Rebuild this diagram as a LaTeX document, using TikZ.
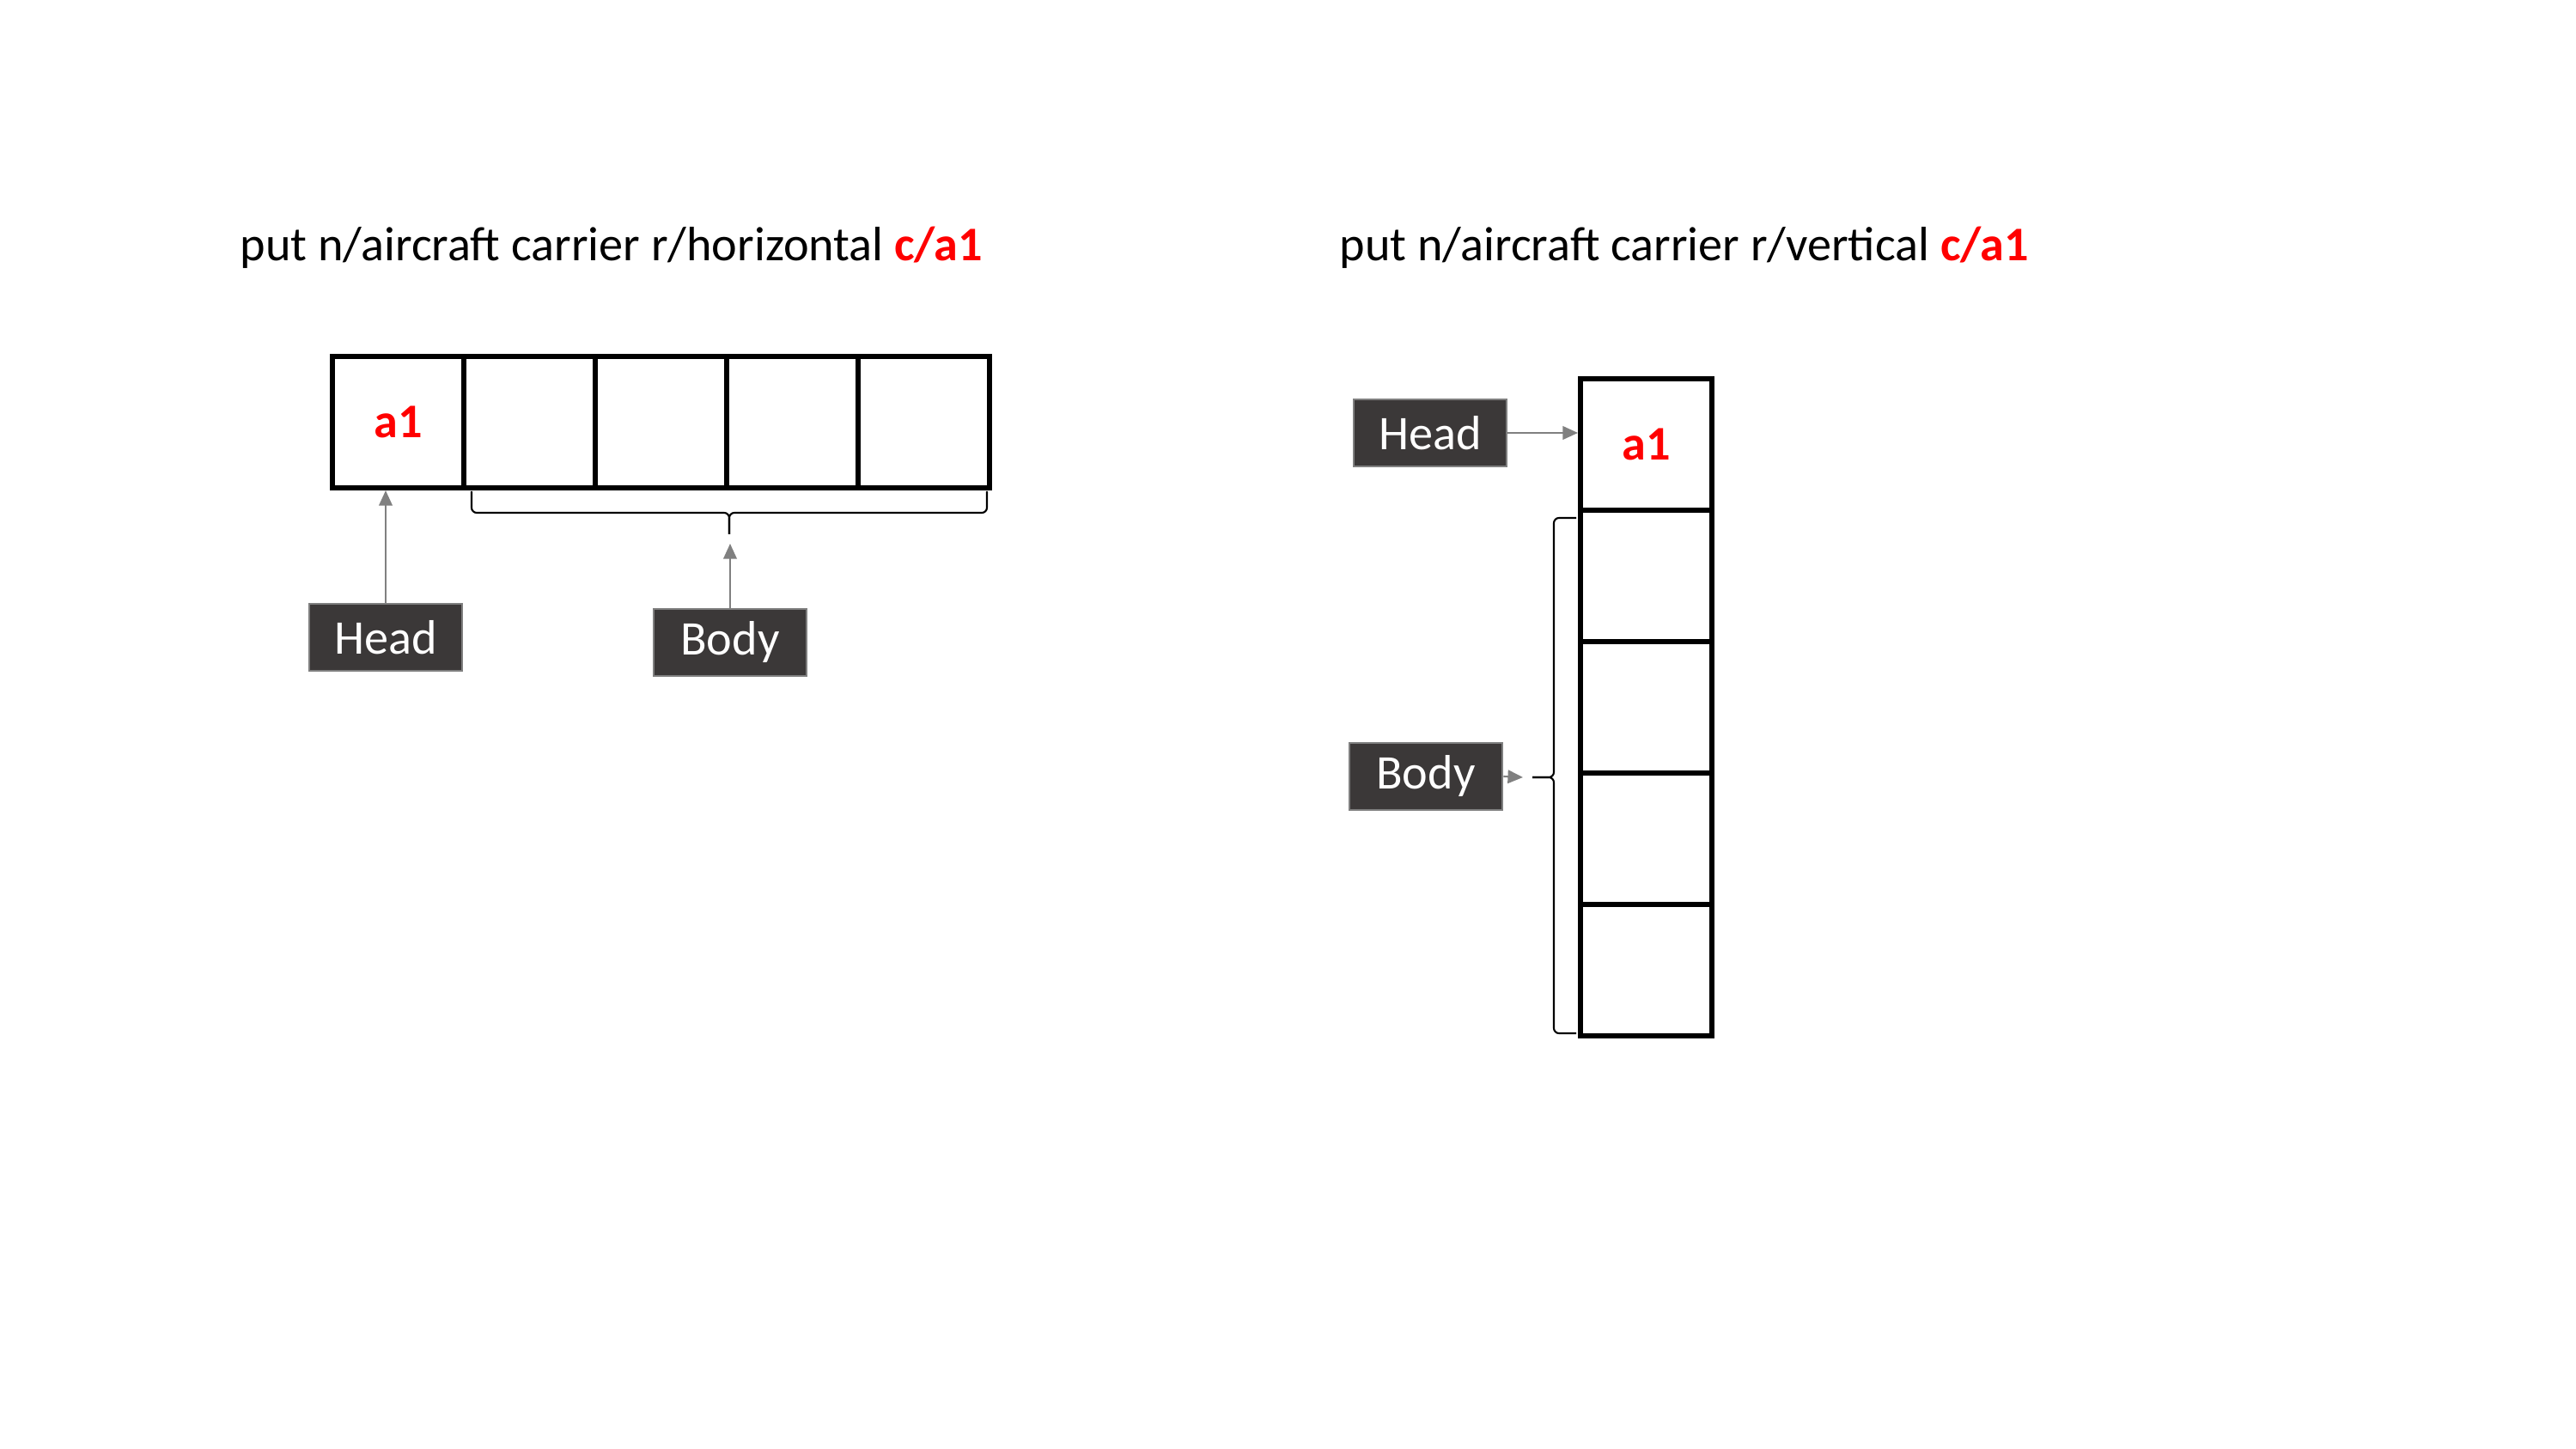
\documentclass[tikz,border=0pt]{standalone}
\usepackage{fontspec}
\setmainfont{Carlito}
\usetikzlibrary{arrows.meta}
\definecolor{tagfill}{RGB}{59,56,56}
\definecolor{tagline}{RGB}{127,127,127}
\definecolor{connline}{RGB}{128,128,128}
\begin{document}
\begin{tikzpicture}[x=1cm,y=-1cm,
  every node/.style={font=\fontsize{16}{19}\selectfont},
  cell/.style={draw,line width=1.7pt,minimum size=1.53cm,inner sep=0pt},
  tag/.style={draw=tagline,line width=0.8pt,fill=tagfill,text=white,minimum width=1.78cm,minimum height=0.78cm,inner sep=0pt},
  conn/.style={connline,line width=0.6pt,-{Triangle[length=5pt,width=4.4pt]}},
  curly/.style={line width=0.6pt,rounded corners=0.06cm}]
\useasboundingbox (0,0) rectangle (29.99,16.87);

% titles
\node[anchor=base west,inner sep=0pt] (titleL) at (2.79,3.04) {put n/aircraft carrier r/horizontal \textcolor{red}{\textbf{c/a1}}};
\node[anchor=base west,inner sep=0pt] (titleR) at (15.59,3.04) {put n/aircraft carrier r/vertical \textcolor{red}{\textbf{c/a1}}};

% horizontal carrier
\foreach \i in {0,...,4}
  \node[cell] (h\i) at (4.635+1.53*\i,4.915) {};
\node[text=red,font=\fontsize{16}{19}\selectfont\bfseries] at (h0) {a1};

\node[tag] (headL) at (4.49,7.42) {Head};
\node[tag] (bodyL) at (8.50,7.48) {Body};

% brace under the body cells
\coordinate (hbL) at (5.49,5.72);
\coordinate (hbR) at (11.49,5.72);
\coordinate (hbTip) at (8.49,6.22);
\draw[curly] (hbL) |- (hbTip |- 0,5.97) -- (hbTip);
\draw[curly] (hbR) |- (hbTip |- 0,5.97) -- (hbTip);
\coordinate (braceTipL) at (8.50,6.33);

\draw[conn] (headL.north) -- (headL.north |- h0.south);
\draw[conn] (bodyL.north) -- (braceTipL);

% vertical carrier
\foreach \i in {0,...,4}
  \node[cell] (v\i) at (19.165,5.175+1.53*\i) {};
\node[text=red,font=\fontsize{16}{19}\selectfont\bfseries] at (v0) {a1};

\node[tag] (headR) at (16.65,5.04) {Head};
\node[tag] (bodyR) at (16.60,9.04) {Body};

% brace beside the body cells
\coordinate (vbT) at (18.35,6.03);
\coordinate (vbB) at (18.35,12.03);
\coordinate (vbTip) at (17.84,9.05);
\draw[curly] (vbT) -| (18.09,9.05) -- (vbTip);
\draw[curly] (vbB) -| (18.09,9.05) -- (vbTip);
\coordinate (braceTipR) at (17.73,9.05);

\draw[conn] (headR.east) -- (headR.east -| v0.west);
\draw[conn] (bodyR.east) -- (braceTipR);
\end{tikzpicture}
\end{document}
